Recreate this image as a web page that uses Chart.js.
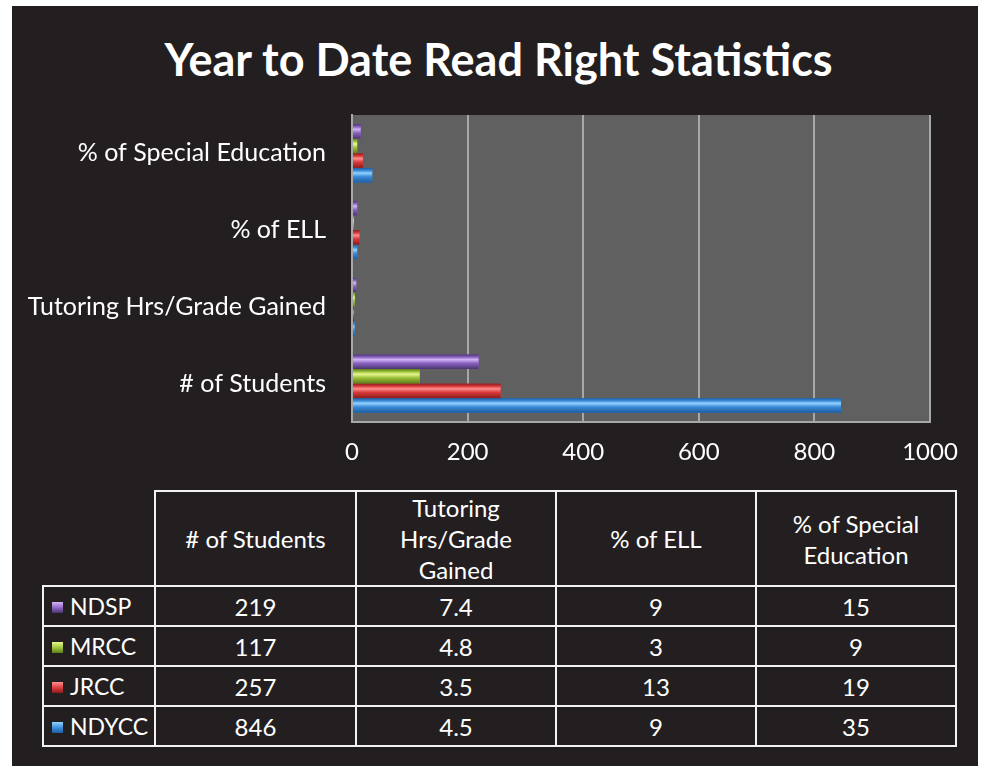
<!DOCTYPE html>
<html>
<head>
<meta charset="utf-8">
<script src="https://cdn.jsdelivr.net/npm/chart.js@4"></script>
<style>
  body { margin: 0; background: #fff; width: 989px; height: 774px; position: relative; overflow: hidden; font-family: Lato, "Open Sans", sans-serif; }
  #frame { position: absolute; left: 12px; top: 6px; width: 966px; height: 760px; background: #231f20; }
  #titulo { position: absolute; left: 0; top: 32px; width: 997px; text-align: center; color: #fff; font: bold 45px/54px Lato, sans-serif; white-space: nowrap; }
  #grafica { position: absolute; left: 0; top: 0; }
  #tabla { position: absolute; left: 42px; top: 490px; border-collapse: collapse; color: #fff; font-size: 24px; }
  #tabla td, #tabla th { border: 2px solid #f2f2f2; text-align: center; font-weight: normal; padding: 0; }
  #tabla th { height: 90px; line-height: 31px; }
  #tabla td { height: 38px; }
  #tabla th.vacio { border-top: hidden; border-left: hidden; }
  #tabla td.serie { text-align: left; padding-left: 8px; white-space: nowrap; font-size: 23px; }
  .cuadro { display: inline-block; width: 11px; height: 11px; margin-right: 7px; vertical-align: 2px; }
</style>
</head>
<body>
<div id="frame"></div>
<div id="titulo">Year to Date Read Right Statistics</div>
<canvas id="grafica" width="989" height="480"></canvas>
<table id="tabla">
  <thead><tr id="cabecera"><th class="vacio" style="width:111px"></th></tr></thead>
  <tbody id="cuerpo"></tbody>
</table>
<script>
// categorias en el orden de la tabla (de abajo hacia arriba en la grafica)
const categorias = ['# of Students', 'Tutoring Hrs/Grade Gained', '% of ELL', '% of Special Education'];
const cabeceras = ['# of Students', 'Tutoring<br>Hrs/Grade<br>Gained', '% of ELL', '% of Special<br>Education'];
const series = ['NDSP', 'MRCC', 'JRCC', 'NDYCC'];
const valNDSP  = [219, 7.4, 9, 15];
const valMRCC  = [117, 4.8, 3, 9];
const valJRCC  = [257, 3.5, 13, 19];
const valNDYCC = [846, 4.5, 9, 35];
const ticksX = [0, 200, 400, 600, 800, 1000];

const colores = [
  { base: '#8a63c0', claro: '#d2b4f5', oscuro: '#4a3370' },
  { base: '#9cc23a', claro: '#e6f890', oscuro: '#5d7a1a' },
  { base: '#d93a3a', claro: '#ff8e8e', oscuro: '#8a1c1c' },
  { base: '#3a8ad8', claro: '#92d2ff', oscuro: '#1f5c9e' }
];
const valores = [valNDSP, valMRCC, valJRCC, valNDYCC];

// tabla
const cab = document.getElementById('cabecera');
cabeceras.forEach((c, i) => {
  const th = document.createElement('th');
  th.innerHTML = c;
  th.style.width = (i === 0 ? 199 : 198) + 'px';
  cab.appendChild(th);
});
const cuerpo = document.getElementById('cuerpo');
series.forEach((s, i) => {
  const row = cuerpo.insertRow();
  const c0 = row.insertCell();
  c0.className = 'serie';
  const col = colores[i];
  c0.innerHTML = '<span class="cuadro" style="background:linear-gradient(' + col.claro + ',' + col.base + ' 55%,' + col.oscuro + ')"></span>' + s;
  valores[i].forEach(v => {
    const c = row.insertCell();
    c.textContent = v;
  });
});

// fondo gris del area de trazado
const fondoPlugin = {
  id: 'fondo',
  beforeDraw(chart) {
    const { ctx, chartArea: a } = chart;
    ctx.save();
    ctx.fillStyle = '#606060';
    ctx.fillRect(a.left, a.top, a.right - a.left, a.bottom - a.top);
    ctx.restore();
  }
};

// efecto 3D en las barras
const biselPlugin = {
  id: 'bisel',
  afterDatasetsDraw(chart) {
    const ctx = chart.ctx;
    chart.data.datasets.forEach((ds, i) => {
      const col = colores[i];
      chart.getDatasetMeta(i).data.forEach(bar => {
        const p = bar.getProps(['x', 'y', 'base', 'height'], true);
        const top = p.y - p.height / 2;
        const g = ctx.createLinearGradient(0, top, 0, top + p.height);
        g.addColorStop(0, col.oscuro);
        g.addColorStop(0.18, col.base);
        g.addColorStop(0.35, col.claro);
        g.addColorStop(0.6, col.base);
        g.addColorStop(1, col.oscuro);
        ctx.save();
        ctx.fillStyle = g;
        ctx.fillRect(p.base, top, p.x - p.base, p.height);
        ctx.restore();
      });
    });
  }
};

const etiquetas = [...categorias].reverse();
new Chart(document.getElementById('grafica'), {
  type: 'bar',
  data: {
    labels: etiquetas,
    datasets: series.map((s, i) => ({
      label: s,
      data: [...valores[i]].reverse(),
      backgroundColor: colores[i].base,
      categoryPercentage: 0.76,
      barPercentage: 1.0
    }))
  },
  options: {
    indexAxis: 'y',
    responsive: false,
    animation: false,
    layout: { padding: { left: 0, right: 59, top: 115, bottom: 0 } },
    plugins: {
      legend: { display: false },
      tooltip: { enabled: false },
      title: { display: false }
    },
    scales: {
      x: {
        min: 0, max: 1000,
        afterBuildTicks(scale) { scale.ticks = ticksX.map(v => ({ value: v })); },
        afterFit(scale) { scale.height = 58; },
        grid: { color: '#a8a8a8', lineWidth: 2, drawTicks: false },
        border: { display: true, color: '#a8a8a8', width: 2 },
        ticks: { color: '#ffffff', font: { family: 'Lato', size: 24 }, padding: 16, callback: v => String(v) }
      },
      y: {
        afterFit(scale) { scale.width = 352; },
        grid: { display: false, drawTicks: false },
        border: { display: true, color: '#a8a8a8', width: 2 },
        ticks: { color: '#ffffff', font: { family: 'Lato', size: 25 }, padding: 26 }
      }
    }
  },
  plugins: [fondoPlugin, biselPlugin]
});
</script>
</body>
</html>
